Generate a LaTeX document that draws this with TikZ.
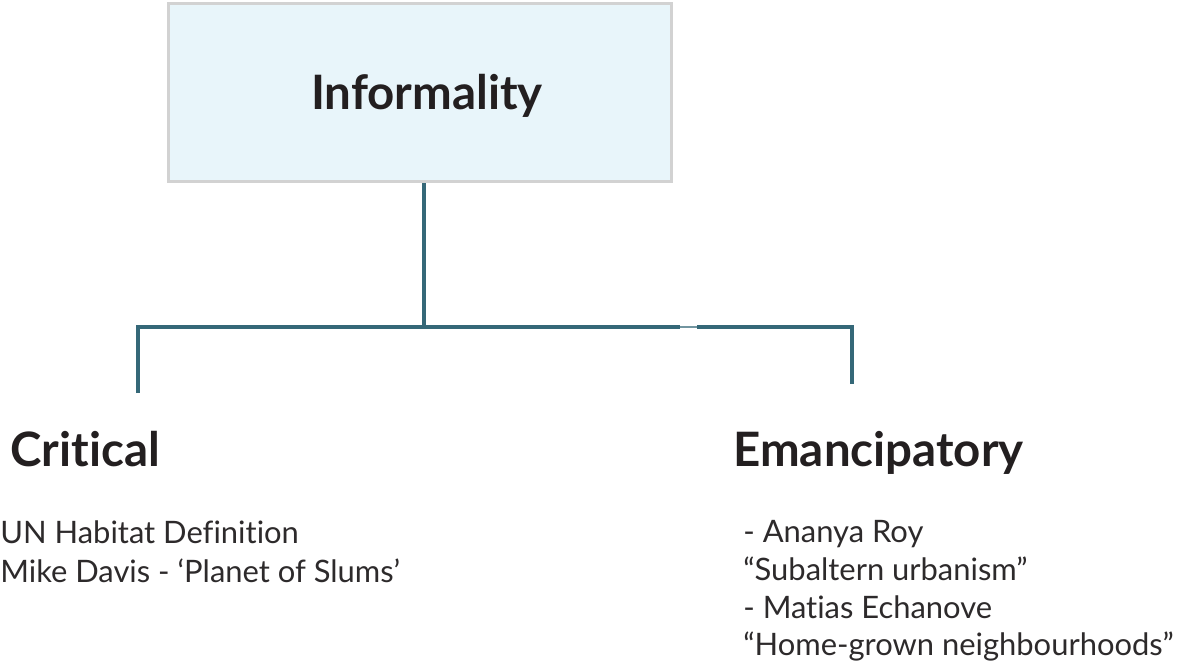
\documentclass[tikz,border=0pt]{standalone}
\usepackage{fontspec}
\setmainfont{Lato}[Ligatures=NoCommon]
\usetikzlibrary{positioning}

\definecolor{branchblue}{RGB}{53,104,120}
\definecolor{boxfill}{RGB}{232,245,250}
\definecolor{boxline}{RGB}{210,210,210}
\definecolor{inkgrey}{RGB}{35,31,32}
\definecolor{bodygrey}{RGB}{45,42,43}

\tikzset{
  rootbox/.style={draw=boxline, line width=1.7pt, fill=boxfill, minimum width=10.08cm,
    minimum height=3.58cm, text height=0.82cm, text=inkgrey, font=\fontsize{27}{32}\selectfont\bfseries},
  branch/.style={draw=branchblue, line width=2.8pt, line join=miter},
  heading/.style={anchor=base west, inner sep=0pt, text=inkgrey, font=\fontsize{27}{32}\selectfont\bfseries},
  bodyline/.style={anchor=base west, inner sep=0pt, text=bodygrey, font=\fontsize{17.6}{22}\selectfont}
}

\begin{document}
\begin{tikzpicture}[x=0.02cm, y=-0.02cm]
        \useasboundingbox (0,0) rectangle (1181,663);

        % Root box
        \node[rootbox] (informality) at (420,92.5) {\hspace*{0.28cm}Informality};

        % Bracket below the box
        \coordinate (hub) at (424,327);
        \coordinate (leftcorner) at (138,327);
        \coordinate (rightcorner) at (852,327);
        \coordinate (gapstart) at (680,327);
        \coordinate (gapend) at (697,327);
        \coordinate (critend) at (138,393);
        \coordinate (emanend) at (852,384);
        \draw[branch] (informality.south -| hub) -- (hub);
        \draw[branch] (critend) -- (leftcorner) -- (gapstart);
        \draw[branch, line width=1.2pt, draw=branchblue!70] (gapstart) -- (gapend);
        \draw[branch] (gapend) -- (rightcorner) -- (emanend);

        % Headings
        \node[heading] (critical) at (10,466) {Critical};
        \node[heading] (emancipatory) at (733,466) {Emancipatory};

        % Lines of text under the headings
        \foreach \y/\txt [count=\i] in {543/UN Habitat Definition, 582/Mike Davis - ‘Planet of Slums’} {
            \node[bodyline] (critline\i) at (0,\y) {\txt};
        }

        \foreach \y/\txt [count=\i] in {542/- Ananya Roy, 580/“Subaltern urbanism”, 618/- Matias Echanove, 655/“Home-grown neighbourhoods”} {
            \node[bodyline] (emanline\i) at (743,\y) {\txt};
        }
\end{tikzpicture}
\end{document}
